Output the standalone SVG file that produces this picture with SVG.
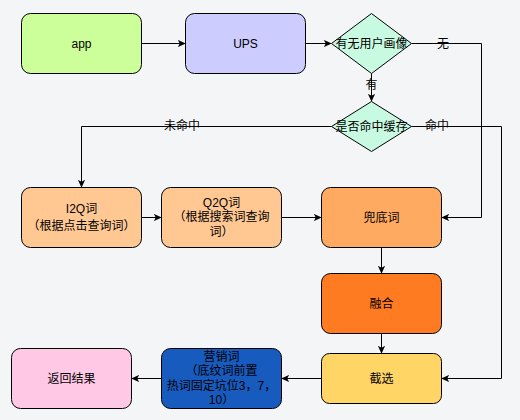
<svg xmlns="http://www.w3.org/2000/svg" width="520" height="420" viewBox="0 0 520 420">
<style>
text{font-family:"Liberation Sans","Noto Sans CJK SC",sans-serif;font-size:12px;fill:#000;text-anchor:middle;dominant-baseline:central}
.n{stroke:#000;stroke-width:1}
.e{fill:none;stroke:#000;stroke-width:1}
</style>
<defs>
<marker id="a" viewBox="0 0 10 10" refX="9" refY="5" markerWidth="8" markerHeight="8" markerUnits="userSpaceOnUse" orient="auto">
<path d="M0,0.5 L10,5 L0,9.5 L2.5,5 Z" fill="#000"/>
</marker>
</defs>
<rect width="520" height="420" fill="#F4F5F7"/>
<g id="edges">
<path class="e" d="M141.5,43.5 H185" marker-end="url(#a)"/>
<path class="e" d="M305.5,43.5 H331" marker-end="url(#a)"/>
<path class="e" d="M411.5,43.5 H481.5 V217.5 H442" marker-end="url(#a)"/>
<path class="e" d="M371.5,73.5 V101" marker-end="url(#a)"/>
<path class="e" d="M331.5,126.5 H81.5 V187" marker-end="url(#a)"/>
<path class="e" d="M411.5,126.5 H501.5 V378.5 H442" marker-end="url(#a)"/>
<path class="e" d="M141.5,217.5 H161" marker-end="url(#a)"/>
<path class="e" d="M281.5,217.5 H321" marker-end="url(#a)"/>
<path class="e" d="M381.5,247.5 V273" marker-end="url(#a)"/>
<path class="e" d="M381.5,333.5 V353" marker-end="url(#a)"/>
<path class="e" d="M321.5,378.5 H282" marker-end="url(#a)"/>
<path class="e" d="M161.5,378.5 H132" marker-end="url(#a)"/>
<text x="443" y="43.5">无</text>
<text x="371.5" y="85">有</text>
<text x="182" y="126">未命中</text>
<text x="437" y="126">命中</text>
</g>
<g id="app"><rect class="n" x="21.5" y="13.5" width="120" height="60" rx="9" fill="#CCFF99"/><text x="81.5" y="43.5">app</text></g>
<g id="ups"><rect class="n" x="185.5" y="13.5" width="120" height="60" rx="9" fill="#CCCCFF"/><text x="245.5" y="43.5">UPS</text></g>
<g id="d1"><path class="n" d="M371.5,13.5 L411.5,43.5 L371.5,73.5 L331.5,43.5 Z" fill="#C8FAE1"/><text x="371.5" y="43.5">有无用户画像</text></g>
<g id="d2"><path class="n" d="M371.5,101.5 L411.5,126.5 L371.5,151.5 L331.5,126.5 Z" fill="#C8FAE1"/><text x="371.5" y="126.5">是否命中缓存</text></g>
<g id="i2q"><rect class="n" x="21.5" y="187.5" width="120" height="60" rx="9" fill="#FFC893"/><text x="81.5" y="208.5">I2Q词</text><text x="81.5" y="225.5">（根据点击查询词）</text></g>
<g id="q2q"><rect class="n" x="161.5" y="187.5" width="120" height="60" rx="9" fill="#FFC893"/><text x="221.5" y="202.5">Q2Q词</text><text x="221.5" y="217">（根据搜索词查询</text><text x="221.5" y="231.5">词）</text></g>
<g id="doudi"><rect class="n" x="321.5" y="187.5" width="120" height="60" rx="9" fill="#FFAA60"/><text x="381.5" y="217.5">兜底词</text></g>
<g id="ronghe"><rect class="n" x="321.5" y="273.5" width="120" height="60" rx="9" fill="#FF7B22"/><text x="381.5" y="303.5">融合</text></g>
<g id="jiexuan"><rect class="n" x="321.5" y="353.5" width="120" height="50" rx="8" fill="#FFD666"/><text x="381.5" y="378.5">截选</text></g>
<g id="yingxiao"><rect class="n" x="161.5" y="348.5" width="120" height="60" rx="9" fill="#185BBF"/><text x="221.5" y="356.5">营销词</text><text x="221.5" y="371">（底纹词前置</text><text x="221.5" y="385.5">热词固定坑位3，7，</text><text x="221.5" y="400">10）</text></g>
<g id="fanhui"><rect class="n" x="11.5" y="348.5" width="120" height="60" rx="9" fill="#FFC8E4"/><text x="71.5" y="378.5">返回结果</text></g>
</svg>
